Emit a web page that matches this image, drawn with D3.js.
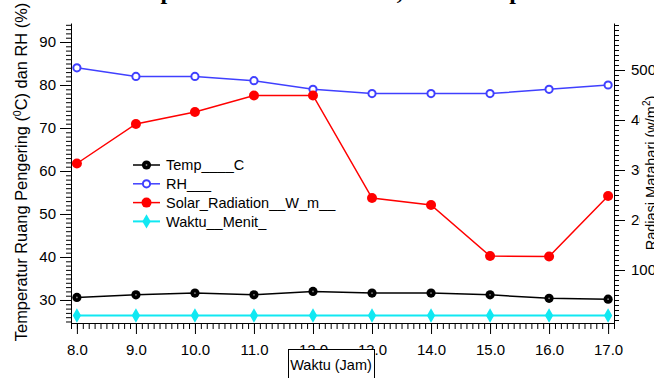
<!DOCTYPE html>
<html>
<head>
<meta charset="utf-8">
<script src="https://cdn.jsdelivr.net/npm/d3@7"></script>
<style>
  html, body { margin: 0; padding: 0; background: #fff; overflow: hidden; }
  svg { display: block; font-family: "Liberation Sans", Arial, sans-serif; }
</style>
</head>
<body>
<div id="chart"></div>
<script>
// data
const hours = [8, 9, 10, 11, 12, 13, 14, 15, 16, 17];
const temp = [30.6, 31.2, 31.6, 31.2, 32.0, 31.6, 31.6, 31.2, 30.4, 30.2];
const rh = [84, 82, 82, 81, 79, 78, 78, 78, 79, 80];
const solar = [313, 392, 416, 449, 449, 244, 230, 128, 127, 248];
const waktu = [26.4, 26.4, 26.4, 26.4, 26.4, 26.4, 26.4, 26.4, 26.4, 26.4];

const leftTicks = [30, 40, 50, 60, 70, 80, 90];
const rightTicks = [100, 200, 300, 400, 500];

const W = 654, H = 378;
const margin = { top: 23, right: 40, bottom: 55, left: 71 };
const width = W - margin.left - margin.right;
const height = H - margin.top - margin.bottom;

const root = d3.select('#chart').append('svg')
  .attr('width', W)
  .attr('height', H);

// title, mostly cut off at the top edge
root.append('text')
  .attr('x', 116)
  .attr('y', -1)
  .attr('font-family', '"Liberation Serif", "Times New Roman", serif')
  .attr('font-weight', 'bold')
  .attr('font-size', 24)
  .text('Temperatur dan RH Udara, serta Temperatur Bahan');

const svg = root.append('g')
  .attr('transform', `translate(${margin.left},${margin.top})`);

const x = d3.scaleLinear().domain([7.9, 17.1]).range([0, width]);
const yL = d3.scaleLinear().domain([24.65, 94.42]).range([height, 0]);
const yR = d3.scaleLinear().domain([-6, 594]).range([height, 0]);

const styleAxis = g => {
  g.selectAll('text').attr('font-size', 15).attr('fill', '#000').attr('font-family', '"Liberation Sans", Arial, sans-serif');
  g.selectAll('line').attr('stroke', '#000');
  g.select('.domain').attr('stroke', '#000');
};

// X axis
svg.append('g')
  .attr('transform', `translate(0,${height})`)
  .call(d3.axisBottom(x).tickValues(d3.range(79, 172).map(v => v / 10)).tickSize(6).tickSizeOuter(0).tickFormat(''))
  .call(styleAxis);
svg.append('g')
  .attr('transform', `translate(0,${height})`)
  .call(d3.axisBottom(x).tickValues(hours).tickSize(11).tickSizeOuter(0).tickPadding(10).tickFormat(d => d.toFixed(1)))
  .call(styleAxis)
  .call(g => g.select('.domain').remove());

// left Y axis
svg.append('g')
  .call(d3.axisLeft(yL).tickValues(d3.range(25, 95)).tickSize(5).tickSizeOuter(0).tickFormat(''))
  .call(styleAxis);
svg.append('g')
  .call(d3.axisLeft(yL).tickValues(leftTicks).tickSize(11).tickSizeOuter(0).tickPadding(4))
  .call(styleAxis)
  .call(g => g.select('.domain').remove());

// right Y axis
svg.append('g')
  .attr('transform', `translate(${width},0)`)
  .call(d3.axisRight(yR).tickValues(d3.range(0, 591, 10)).tickSize(5).tickSizeOuter(0).tickFormat(''))
  .call(styleAxis);
svg.append('g')
  .attr('transform', `translate(${width},0)`)
  .call(d3.axisRight(yR).tickValues(rightTicks).tickSize(11).tickSizeOuter(0).tickPadding(6))
  .call(styleAxis)
  .call(g => g.select('.domain').remove());

// series
const series = [
  { name: 'Temp____C', values: temp, y: yL, color: '#000000', marker: 'dot' },
  { name: 'RH___', values: rh, y: yL, color: '#4040ff', marker: 'open' },
  { name: 'Solar_Radiation__W_m__', values: solar, y: yR, color: '#ff0000', marker: 'big' },
  { name: 'Waktu__Menit_', values: waktu, y: yL, color: '#10e8f2', marker: 'diamond' }
];

const drawMarker = (sel, s) => {
  if (s.marker === 'diamond') {
    sel.append('path')
      .attr('d', d3.symbol(d3.symbolDiamond, 60)())
      .attr('fill', s.color);
  } else if (s.marker === 'open') {
    sel.append('circle').attr('r', 3.6)
      .attr('fill', '#fff').attr('stroke', s.color).attr('stroke-width', 2);
  } else {
    sel.append('circle').attr('r', s.marker === 'big' ? 5 : 4.6)
      .attr('fill', s.color);
    if (s.marker === 'dot') {
      // little light centre, as the original marker shows
      sel.append('circle').attr('r', 0.9).attr('fill', '#888');
    }
  }
};

series.forEach(s => {
  const pts = hours.map((h, i) => ({ h, v: s.values[i] }));
  svg.append('path')
    .datum(pts)
    .attr('fill', 'none')
    .attr('stroke', s.color)
    .attr('stroke-width', s.marker === 'diamond' ? 2 : 1.5)
    .attr('d', d3.line().x(d => x(d.h)).y(d => s.y(d.v)));
  pts.forEach(d => {
    const g = svg.append('g').attr('transform', `translate(${x(d.h)},${s.y(d.v)})`);
    drawMarker(g, s);
  });
});

// legend
const legend = root.append('g').attr('transform', 'translate(133,165)');
series.forEach((s, i) => {
  const row = legend.append('g').attr('transform', `translate(0,${i * 18.8})`);
  row.append('line')
    .attr('x1', 0).attr('x2', 27)
    .attr('stroke', s.color)
    .attr('stroke-width', s.marker === 'diamond' ? 2 : 1.5);
  drawMarker(row.append('g').attr('transform', 'translate(13.5,0)'), s);
  row.append('text')
    .attr('x', 33)
    .attr('dy', '0.36em')
    .attr('font-size', 14.5)
    .text(s.name);
});

// left axis title
const lt = root.append('text')
  .attr('transform', 'translate(27,172) rotate(-90)')
  .attr('text-anchor', 'middle')
  .attr('font-size', 16.4);
lt.append('tspan').text('Temperatur Ruang Pengering (');
lt.append('tspan').attr('font-size', 10.5).attr('dy', -6.5).text('0');
lt.append('tspan').attr('dy', 6.5).text('C) dan RH (%)');

// right axis title, over a white box that hides part of the tick labels
root.append('rect')
  .attr('x', 640).attr('y', 94)
  .attr('width', 20).attr('height', 160)
  .attr('fill', '#fff');
const rt = root.append('text')
  .attr('transform', `translate(656,${margin.top + height / 2}) rotate(-90)`)
  .attr('text-anchor', 'middle')
  .attr('font-size', 14.5);
rt.append('tspan').text('Radiasi Matahari (w/m');
rt.append('tspan').attr('font-size', 10).attr('dy', -6).text('2');
rt.append('tspan').attr('dy', 6).text(')');

// x axis title in a box
root.append('rect')
  .attr('x', 288.5).attr('y', 349.5)
  .attr('width', 86).attr('height', 40)
  .attr('fill', '#fff')
  .attr('stroke', '#000');
root.append('text')
  .attr('x', 331)
  .attr('y', 370)
  .attr('text-anchor', 'middle')
  .attr('font-size', 14.5)
  .text('Waktu (Jam)');
</script>
</body>
</html>
